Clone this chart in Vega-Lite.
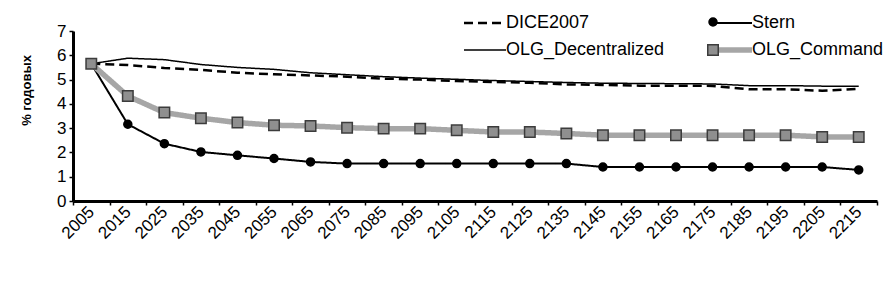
{
  "$schema": "https://vega.github.io/schema/vega-lite/v6.json",
  "width": 804,
  "height": 170,
  "autosize": {"type": "none"},
  "padding": {"left": 73, "top": 31, "right": 7, "bottom": 101},
  "background": "white",
  "config": {"view": {"stroke": null}, "font": "Liberation Sans"},
  "datasets": {
    "rates": [
      {"year": 2005, "series": "DICE2007", "value": 5.65}, {"year": 2015, "series": "DICE2007", "value": 5.60}, {"year": 2025, "series": "DICE2007", "value": 5.48}, {"year": 2035, "series": "DICE2007", "value": 5.40}, {"year": 2045, "series": "DICE2007", "value": 5.28}, {"year": 2055, "series": "DICE2007", "value": 5.22}, {"year": 2065, "series": "DICE2007", "value": 5.17}, {"year": 2075, "series": "DICE2007", "value": 5.12}, {"year": 2085, "series": "DICE2007", "value": 5.04}, {"year": 2095, "series": "DICE2007", "value": 5.00}, {"year": 2105, "series": "DICE2007", "value": 4.94}, {"year": 2115, "series": "DICE2007", "value": 4.90}, {"year": 2125, "series": "DICE2007", "value": 4.87}, {"year": 2135, "series": "DICE2007", "value": 4.80}, {"year": 2145, "series": "DICE2007", "value": 4.78}, {"year": 2155, "series": "DICE2007", "value": 4.75}, {"year": 2165, "series": "DICE2007", "value": 4.75}, {"year": 2175, "series": "DICE2007", "value": 4.74}, {"year": 2185, "series": "DICE2007", "value": 4.60}, {"year": 2195, "series": "DICE2007", "value": 4.60}, {"year": 2205, "series": "DICE2007", "value": 4.54}, {"year": 2215, "series": "DICE2007", "value": 4.62},
      {"year": 2005, "series": "OLG_Decentralized", "value": 5.65}, {"year": 2015, "series": "OLG_Decentralized", "value": 5.88}, {"year": 2025, "series": "OLG_Decentralized", "value": 5.82}, {"year": 2035, "series": "OLG_Decentralized", "value": 5.62}, {"year": 2045, "series": "OLG_Decentralized", "value": 5.50}, {"year": 2055, "series": "OLG_Decentralized", "value": 5.42}, {"year": 2065, "series": "OLG_Decentralized", "value": 5.28}, {"year": 2075, "series": "OLG_Decentralized", "value": 5.20}, {"year": 2085, "series": "OLG_Decentralized", "value": 5.12}, {"year": 2095, "series": "OLG_Decentralized", "value": 5.06}, {"year": 2105, "series": "OLG_Decentralized", "value": 5.01}, {"year": 2115, "series": "OLG_Decentralized", "value": 4.96}, {"year": 2125, "series": "OLG_Decentralized", "value": 4.92}, {"year": 2135, "series": "OLG_Decentralized", "value": 4.88}, {"year": 2145, "series": "OLG_Decentralized", "value": 4.85}, {"year": 2155, "series": "OLG_Decentralized", "value": 4.84}, {"year": 2165, "series": "OLG_Decentralized", "value": 4.83}, {"year": 2175, "series": "OLG_Decentralized", "value": 4.82}, {"year": 2185, "series": "OLG_Decentralized", "value": 4.75}, {"year": 2195, "series": "OLG_Decentralized", "value": 4.75}, {"year": 2205, "series": "OLG_Decentralized", "value": 4.73}, {"year": 2215, "series": "OLG_Decentralized", "value": 4.73},
      {"year": 2005, "series": "Stern", "value": 5.65}, {"year": 2015, "series": "Stern", "value": 3.16}, {"year": 2025, "series": "Stern", "value": 2.36}, {"year": 2035, "series": "Stern", "value": 2.02}, {"year": 2045, "series": "Stern", "value": 1.88}, {"year": 2055, "series": "Stern", "value": 1.75}, {"year": 2065, "series": "Stern", "value": 1.61}, {"year": 2075, "series": "Stern", "value": 1.54}, {"year": 2085, "series": "Stern", "value": 1.54}, {"year": 2095, "series": "Stern", "value": 1.54}, {"year": 2105, "series": "Stern", "value": 1.54}, {"year": 2115, "series": "Stern", "value": 1.54}, {"year": 2125, "series": "Stern", "value": 1.54}, {"year": 2135, "series": "Stern", "value": 1.54}, {"year": 2145, "series": "Stern", "value": 1.40}, {"year": 2155, "series": "Stern", "value": 1.40}, {"year": 2165, "series": "Stern", "value": 1.40}, {"year": 2175, "series": "Stern", "value": 1.40}, {"year": 2185, "series": "Stern", "value": 1.40}, {"year": 2195, "series": "Stern", "value": 1.40}, {"year": 2205, "series": "Stern", "value": 1.40}, {"year": 2215, "series": "Stern", "value": 1.28},
      {"year": 2005, "series": "OLG_Command", "value": 5.65}, {"year": 2015, "series": "OLG_Command", "value": 4.32}, {"year": 2025, "series": "OLG_Command", "value": 3.64}, {"year": 2035, "series": "OLG_Command", "value": 3.41}, {"year": 2045, "series": "OLG_Command", "value": 3.23}, {"year": 2055, "series": "OLG_Command", "value": 3.12}, {"year": 2065, "series": "OLG_Command", "value": 3.09}, {"year": 2075, "series": "OLG_Command", "value": 3.02}, {"year": 2085, "series": "OLG_Command", "value": 2.98}, {"year": 2095, "series": "OLG_Command", "value": 2.98}, {"year": 2105, "series": "OLG_Command", "value": 2.91}, {"year": 2115, "series": "OLG_Command", "value": 2.84}, {"year": 2125, "series": "OLG_Command", "value": 2.84}, {"year": 2135, "series": "OLG_Command", "value": 2.78}, {"year": 2145, "series": "OLG_Command", "value": 2.71}, {"year": 2155, "series": "OLG_Command", "value": 2.71}, {"year": 2165, "series": "OLG_Command", "value": 2.71}, {"year": 2175, "series": "OLG_Command", "value": 2.71}, {"year": 2185, "series": "OLG_Command", "value": 2.71}, {"year": 2195, "series": "OLG_Command", "value": 2.71}, {"year": 2205, "series": "OLG_Command", "value": 2.64}, {"year": 2215, "series": "OLG_Command", "value": 2.64}
    ]
  },
  "data": {"name": "rates"},
  "encoding": {
    "x": {
      "field": "year", "type": "ordinal",
      "scale": {"type": "band", "paddingInner": 0, "paddingOuter": 0},
      "axis": {
        "title": null, "tickBand": "extent", "labelAngle": -45, "labelAlign": "right", "labelBaseline": "middle",
        "labelFontSize": 17, "labelColor": "black", "labelPadding": 4,
        "domainColor": "black", "domainWidth": 3, "tickColor": "black", "tickSize": 4, "tickWidth": 1.5, "grid": false
      }
    },
    "y": {
      "field": "value", "type": "quantitative",
      "scale": {"domain": [0, 7], "nice": false},
      "axis": {
        "values": [0, 1, 2, 3, 4, 5, 6, 7], "grid": false,
        "title": "% годовых", "titleFontSize": 13, "titleFontWeight": "bold", "titleColor": "black",
        "titleAngle": -90, "titleAlign": "center", "titleBaseline": "alphabetic", "titleX": -43, "titleY": 59,
        "labelFontSize": 17, "labelColor": "black", "labelPadding": 3,
        "domainColor": "black", "domainWidth": 3, "tickColor": "black", "tickSize": 4, "tickWidth": 1.5
      }
    }
  },
  "layer": [
    {
      "mark": {"type": "line"},
      "encoding": {
        "color": {
          "field": "series", "type": "nominal",
          "scale": {"domain": ["DICE2007", "OLG_Decentralized", "Stern", "OLG_Command"], "range": ["#000000", "#000000", "#000000", "#a6a6a6"]},
          "legend": {"title": null, "orient": "none", "legendX": 403, "legendY": -17, "columns": 2, "columnPadding": 34, "rowPadding": 7, "symbolType": "stroke", "symbolSize": 1764, "labelFontSize": 18, "labelColor": "black", "labelOffset": 12, "labelLimit": 300, "padding": 0,
            "encode": {"symbols": {"update": {"strokeWidth": {"signal": "datum.value === 'OLG_Command' ? 5.5 : datum.value === 'DICE2007' ? 2.5 : datum.value === 'Stern' ? 2 : 1.5"}}}}}
        },
        "strokeDash": {
          "field": "series", "type": "nominal",
          "scale": {"domain": ["DICE2007", "OLG_Decentralized", "Stern", "OLG_Command"], "range": [[9, 5], [1, 0], [1, 0], [1, 0]]},
          "legend": {"title": null, "orient": "none", "legendX": 403, "legendY": -17, "columns": 2, "columnPadding": 34, "rowPadding": 7, "symbolType": "stroke", "symbolSize": 1764, "labelFontSize": 18, "labelColor": "black", "labelOffset": 12, "labelLimit": 300, "padding": 0,
            "encode": {"symbols": {"update": {"strokeWidth": {"signal": "datum.value === 'OLG_Command' ? 5.5 : datum.value === 'DICE2007' ? 2.5 : datum.value === 'Stern' ? 2 : 1.5"}}}}}
        },
        "strokeWidth": {
          "condition": [
            {"test": "datum.series === 'OLG_Command'", "value": 5.5},
            {"test": "datum.series === 'DICE2007'", "value": 2.5},
            {"test": "datum.series === 'Stern'", "value": 2}
          ],
          "value": 1.5
        }
      }
    },
    {
      "transform": [{"filter": {"field": "series", "oneOf": ["Stern", "OLG_Command"]}}],
      "mark": {"type": "point", "filled": true, "opacity": 1, "strokeWidth": 1.5},
      "encoding": {
        "shape": {
          "field": "series", "type": "nominal",
          "scale": {"domain": ["Stern", "OLG_Command"], "range": ["circle", "square"]},
          "legend": {"title": null, "orient": "none", "legendX": 634, "legendY": -14, "columns": 1, "rowPadding": 12, "labelExpr": "''", "padding": 0,
            "encode": {"symbols": {"update": {"fill": {"signal": "datum.value === 'Stern' ? 'black' : 'white'"}, "stroke": {"value": "black"}, "strokeWidth": {"value": 1.2}}}}}
        },
        "fill": {
          "field": "series", "type": "nominal",
          "scale": {"domain": ["Stern", "OLG_Command"], "range": ["#000000", "#8f8f8f"]},
          "legend": {"title": null, "orient": "none", "legendX": 634, "legendY": -14, "columns": 1, "rowPadding": 12, "labelExpr": "''", "padding": 0,
            "encode": {"symbols": {"update": {"fill": {"signal": "datum.value === 'Stern' ? 'black' : 'white'"}, "stroke": {"value": "black"}, "strokeWidth": {"value": 1.2}}}}}
        },
        "stroke": {
          "field": "series", "type": "nominal",
          "scale": {"domain": ["Stern", "OLG_Command"], "range": ["#000000", "#3c3c3c"]},
          "legend": {"title": null, "orient": "none", "legendX": 634, "legendY": -14, "columns": 1, "rowPadding": 12, "labelExpr": "''", "padding": 0,
            "encode": {"symbols": {"update": {"fill": {"signal": "datum.value === 'Stern' ? 'black' : 'white'"}, "stroke": {"value": "black"}, "strokeWidth": {"value": 1.2}}}}}
        },
        "size": {
          "field": "series", "type": "ordinal",
          "scale": {"domain": ["Stern", "OLG_Command"], "range": [64, 110]},
          "legend": {"title": null, "orient": "none", "legendX": 634, "legendY": -14, "columns": 1, "rowPadding": 12, "labelExpr": "''", "padding": 0,
            "encode": {"symbols": {"update": {"fill": {"signal": "datum.value === 'Stern' ? 'black' : 'white'"}, "stroke": {"value": "black"}, "strokeWidth": {"value": 1.2}}}}}
        }
      }
    }
  ]
}
